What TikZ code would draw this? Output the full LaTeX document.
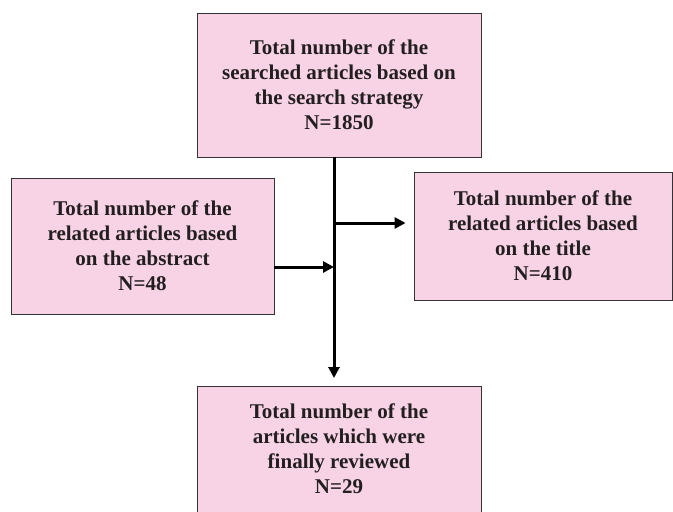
\documentclass[tikz,border=0pt]{standalone}
\usepackage{fontspec}
\setmainfont{Liberation Serif}
\usetikzlibrary{arrows.meta,calc}
\definecolor{boxfill}{RGB}{248,211,229}
\definecolor{txtcol}{RGB}{35,31,32}
\definecolor{edgecol}{RGB}{50,50,50}
\tikzset{
  box/.style={draw=edgecol, line width=0.9pt, fill=boxfill, inner sep=0pt},
  txt/.style={text=txtcol, align=center, font=\fontsize{21pt}{25pt}\selectfont\bfseries, inner sep=0pt},
  flow/.style={line width=3pt, -{Triangle[length=11pt,width=11pt]}}
}
\begin{document}
\begin{tikzpicture}[x=1pt,y=-1pt]
\clip (0,0) rectangle (673,512);
\fill[white] (0,0) rectangle (673,512);
% boxes
\node[box, txt, minimum width=284pt, minimum height=144pt] (top) at (339,85)
  {Total number of the\\searched articles based on\\the search strategy\\N=1850};
\node[box, txt, minimum width=263pt, minimum height=136pt] (left) at (142.5,246)
  {Total number of the\\related articles based\\on the abstract\\N=48};
\node[box, txt, minimum width=258pt, minimum height=128pt] (right) at (543,236)
  {Total number of the\\related articles based\\on the title\\N=410};
\node[box, minimum width=284pt, minimum height=160pt, anchor=north] (bot) at (339,386) {};
\node[txt] (bottxt) at (339,449)
  {Total number of the\\articles which were\\finally reviewed\\N=29};
% junction points on the trunk
\coordinate (jA) at (334,223);
\coordinate (jB) at (334,267);
% connectors
\draw[flow, shorten >=8pt] (top.south -| jA) -- (bot.north -| jA);
\draw[flow, shorten >=8pt] (jA) -- (right.west |- jA);
\draw[flow] (left.east |- jB) -- (jB);
\end{tikzpicture}
\end{document}
